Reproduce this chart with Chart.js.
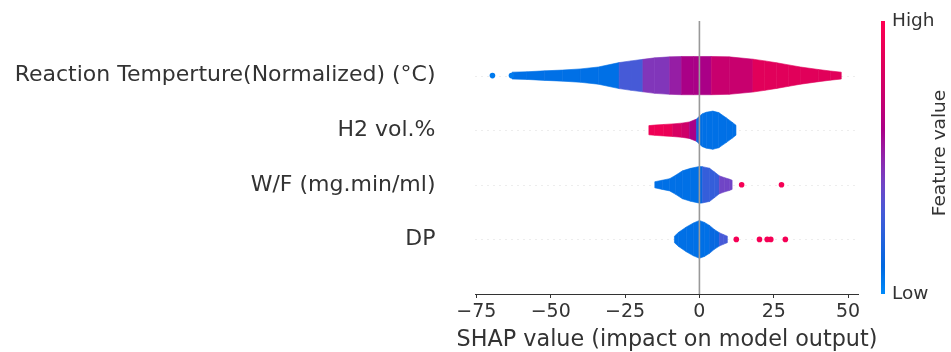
<!DOCTYPE html>
<html>
<head>
<meta charset="utf-8">
<script src="https://cdn.jsdelivr.net/npm/chart.js@4.4.0/dist/chart.umd.min.js"></script>
<style>
  html, body { margin: 0; padding: 0; background: #fff; }
</style>
</head>
<body>
<canvas id="myChart" width="951" height="352"></canvas>
<script>
//data block
const features = ['Reaction Temperture(Normalized) (°C)', 'H2 vol.%', 'W/F (mg.min/ml)', 'DP'];
const rowPos = [3, 2, 1, 0];
const xTicks = [-75, -50, -25, 0, 25, 50];
const xTitle = 'SHAP value (impact on model output)';

// violin outlines: shap value grid, relative density, mean feature value (0 = low, 1 = high)
const tempShap    = [-63, -58, -52, -46, -40, -34, -27, -23, -19, -15, -10, -6, -2, 4, 10, 18, 22, 26, 30, 34, 40, 44, 47.7];
const tempDensity = [0.18, 0.2, 0.25, 0.29, 0.35, 0.45, 0.68, 0.77, 0.85, 0.93, 0.98, 1, 1, 1, 0.98, 0.86, 0.77, 0.67, 0.56, 0.45, 0.32, 0.24, 0.18];
const tempColor   = [0.08, 0.08, 0.08, 0.08, 0.08, 0.08, 0.3, 0.3, 0.45, 0.45, 0.52, 0.6, 0.6, 0.72, 0.72, 0.85, 0.85, 0.85, 0.85, 0.85, 0.85, 0.85, 0.85];

const h2Shap    = [-17, -15, -12, -9, -6, -3.4, -1, 0, 1, 2.3, 4.5, 6.5, 9, 11, 12.3];
const h2Density = [0.24, 0.27, 0.3, 0.33, 0.37, 0.43, 0.58, 0.73, 0.86, 0.94, 1, 0.92, 0.65, 0.42, 0.26];
const h2Color   = [0.92, 0.92, 0.9, 0.8, 0.75, 0.6, 0.15, 0.08, 0.08, 0.08, 0.08, 0.08, 0.08, 0.08, 0.08];

const wfShap    = [-15, -12.5, -10, -8, -5.7, -3, 0, 1, 3.4, 5, 6.7, 8.5, 10, 11];
const wfDensity = [0.16, 0.24, 0.32, 0.5, 0.73, 0.86, 0.96, 0.95, 0.87, 0.68, 0.47, 0.37, 0.3, 0.24];
const wfColor   = [0.08, 0.08, 0.08, 0.08, 0.08, 0.08, 0.12, 0.25, 0.25, 0.25, 0.4, 0.4, 0.4, 0.4];

const dpShap    = [-8.4, -7, -4.4, -2, 0, 1.7, 3.4, 5, 6.7, 8, 9.4];
const dpDensity = [0.17, 0.37, 0.65, 0.86, 0.99, 0.89, 0.73, 0.52, 0.35, 0.26, 0.17];
const dpColor   = [0.08, 0.08, 0.08, 0.08, 0.08, 0.08, 0.12, 0.12, 0.3, 0.3, 0.3];

// single samples outside the violins
const tempOutliers = [-69.6, -63.2];
const wfOutliers = [14.2, 27.6];
const dpOutliers = [12.4, 20.2, 22.8, 24, 28.9];
const outlierColor = [0.05, 0.95, 0.95];

const violins = [
  { shap: tempShap, density: tempDensity, color: tempColor },
  { shap: h2Shap, density: h2Density, color: h2Color },
  { shap: wfShap, density: wfDensity, color: wfColor },
  { shap: dpShap, density: dpDensity, color: dpColor }
];

//colormap (shap red_blue look)
const cmapStops = [
  [0, [0, 138, 250]], [0.1, [0, 105, 225]], [0.3, [70, 90, 215]], [0.42, [120, 65, 195]],
  [0.52, [150, 30, 165]], [0.6, [170, 0, 135]], [0.72, [200, 0, 110]], [0.85, [225, 0, 90]], [1, [255, 0, 82]]
];
function cmap(t) {
  for (let i = 1; i < cmapStops.length; i++) {
    const [t1, c1] = cmapStops[i];
    const [t0, c0] = cmapStops[i - 1];
    if (t <= t1) {
      const f = (t - t0) / (t1 - t0);
      const c = c0.map((v, k) => Math.round(v + (c1[k] - v) * f));
      return `rgb(${c[0]}, ${c[1]}, ${c[2]})`;
    }
  }
  return 'rgb(255, 0, 82)';
}

const font = 'DejaVu Sans';
const halfWidth = 0.35;

//violins, row guides and zero line
const violinPlugin = {
  id: 'violinPlugin',
  beforeDatasetsDraw(chart) {
    const { ctx, chartArea: { left, right, top, bottom }, scales: { x, y } } = chart;
    ctx.save();
    // dotted row lines
    ctx.strokeStyle = '#cccccc';
    ctx.lineWidth = 0.7;
    ctx.setLineDash([1, 5]);
    rowPos.forEach(p => {
      const py = Math.round(y.getPixelForValue(p)) + 0.5;
      ctx.beginPath();
      ctx.moveTo(left, py);
      ctx.lineTo(right, py);
      ctx.stroke();
    });
    ctx.setLineDash([]);

    violins.forEach((v, f) => {
      const p = rowPos[f];
      for (let i = 0; i < v.shap.length - 1; i++) {
        const x0 = x.getPixelForValue(v.shap[i]);
        const x1 = x.getPixelForValue(v.shap[i + 1]);
        const c = cmap(v.color[i]);
        ctx.fillStyle = c;
        ctx.strokeStyle = c;
        ctx.lineWidth = 0.6;
        ctx.beginPath();
        ctx.moveTo(x0, y.getPixelForValue(p + v.density[i] * halfWidth));
        ctx.lineTo(x1, y.getPixelForValue(p + v.density[i + 1] * halfWidth));
        ctx.lineTo(x1, y.getPixelForValue(p - v.density[i + 1] * halfWidth));
        ctx.lineTo(x0, y.getPixelForValue(p - v.density[i] * halfWidth));
        ctx.closePath();
        ctx.fill();
        ctx.stroke();
      }
    });

    // zero line
    const zx = x.getPixelForValue(0);
    ctx.strokeStyle = '#999999';
    ctx.lineWidth = 1.6;
    ctx.beginPath();
    ctx.moveTo(zx, top);
    ctx.lineTo(zx, bottom);
    ctx.stroke();
    ctx.restore();
  }
};

//colorbar + x title (the title is wider than the plot, so chart.js would squeeze it)
const colorbarPlugin = {
  id: 'colorbarPlugin',
  afterDraw(chart) {
    const { ctx, chartArea: { left, right, top, bottom } } = chart;
    const cbX = 881, cbW = 4;
    ctx.save();
    const grad = ctx.createLinearGradient(0, bottom, 0, top);
    for (let i = 0; i <= 20; i++) grad.addColorStop(i / 20, cmap(i / 20));
    ctx.fillStyle = grad;
    ctx.fillRect(cbX, top, cbW, bottom - top);

    ctx.fillStyle = '#333333';
    ctx.font = `22.3px ${font}`;
    ctx.textAlign = 'center';
    ctx.textBaseline = 'middle';
    ctx.fillText(xTitle, (left + right) / 2, 340);

    ctx.font = `18.5px ${font}`;
    ctx.textAlign = 'left';
    ctx.fillText('High', cbX + 11, top);
    ctx.fillText('Low', cbX + 11, bottom);

    ctx.translate(940, 153);
    ctx.rotate(-Math.PI / 2);
    ctx.textAlign = 'center';
    ctx.fillText('Feature value', 0, 0);
    ctx.restore();
  }
};

const scatterSets = [
  { data: tempOutliers.map(v => ({ x: v, y: rowPos[0] })), color: cmap(outlierColor[0]) },
  { data: wfOutliers.map(v => ({ x: v, y: rowPos[2] })), color: cmap(outlierColor[1]) },
  { data: dpOutliers.map(v => ({ x: v, y: rowPos[3] })), color: cmap(outlierColor[2]) }
].map(s => ({
  data: s.data,
  pointBackgroundColor: s.color,
  pointBorderWidth: 0,
  pointRadius: 2.8,
  showLine: false
}));

//config block
const config = {
  type: 'scatter',
  data: { datasets: scatterSets },
  options: {
    responsive: false,
    animation: false,
    layout: { padding: { left: 0, right: 92.5, top: 21, bottom: 0 } },
    plugins: { legend: { display: false }, tooltip: { enabled: false } },
    scales: {
      x: {
        type: 'linear',
        min: -75.3,
        max: 53.5,
        afterBuildTicks(scale) { scale.ticks = xTicks.map(v => ({ value: v })); },
        afterFit(scale) { scale.height = 58; },
        grid: { drawOnChartArea: false, drawTicks: true, tickLength: 4, tickColor: '#333333' },
        border: { display: true, color: '#333333', width: 1 },
        ticks: {
          color: '#333333',
          font: { family: font, size: 19 },
          padding: 3,
          maxRotation: 0,
          callback: v => String(v).replace('-', '\u2212')
        },
        title: { display: false }
      },
      y: {
        type: 'linear',
        min: -1,
        max: 4,
        afterBuildTicks(scale) { scale.ticks = rowPos.map(v => ({ value: v })); },
        afterFit(scale) {
          scale.width = 475.5;
          scale.paddingTop = 0;
          scale.paddingBottom = 0;
        },
        grid: { display: false, drawTicks: false },
        border: { display: false },
        ticks: {
          color: '#333333',
          font: { family: font, size: 22 },
          padding: 40,
          callback: v => features[rowPos.indexOf(v)]
        }
      }
    }
  },
  plugins: [violinPlugin, colorbarPlugin]
};

//render block
const myChart = new Chart(document.getElementById('myChart'), config);
</script>
</body>
</html>
